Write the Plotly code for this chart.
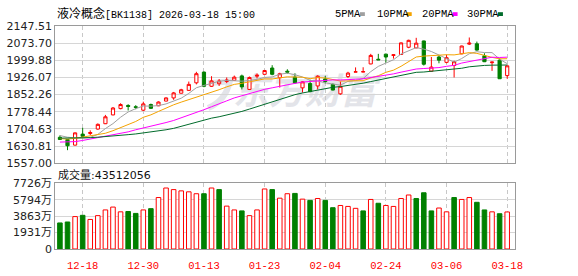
import plotly.graph_objects as go

# ---------------- data ----------------
dates = ["12-15", "12-16", "12-17", "12-18", "12-19", "12-22", "12-23", "12-24", "12-25", "12-26",
         "12-29", "12-30", "12-31", "01-05", "01-06", "01-07", "01-08", "01-09", "01-12", "01-13",
         "01-14", "01-15", "01-16", "01-19", "01-20", "01-21", "01-22", "01-23", "01-26", "01-27",
         "01-28", "01-29", "01-30", "02-02", "02-03", "02-04", "02-05", "02-06", "02-09", "02-10",
         "02-11", "02-12", "02-13", "02-24", "02-25", "02-26", "02-27", "03-02", "03-03", "03-04",
         "03-05", "03-06", "03-09", "03-10", "03-11", "03-12", "03-13", "03-16", "03-17", "03-18"]

open_ = [1668.7, 1659.2, 1634.9, 1682.3, 1685.0, 1704.0, 1727.0, 1764.9, 1792.0, 1805.5,
         1800.1, 1785.2, 1809.6, 1804.2, 1824.5, 1838.0, 1858.3, 1870.5, 1903.0, 1949.1,
         1888.1, 1899.0, 1908.5, 1913.9, 1932.8, 1874.6, 1931.5, 1939.6, 1966.7, 1924.7,
         1953.1, 1927.4, 1881.4, 1900.3, 1889.5, 1920.0, 1896.3, 1855.6, 1930.1, 1949.1,
         1949.5, 1984.3, 2004.6, 2026.3, 2020.9, 2024.9, 2056.1, 2053.4, 2083.2, 1953.1,
         2014.1, 1991.1, 1977.5, 2027.7, 2069.6, 2071.0, 2019.5, 1989.7, 2000.6, 1934.2]
high = [1676.9, 1660.6, 1689.0, 1709.4, 1698.5, 1728.3, 1764.9, 1798.8, 1815.0, 1810.9,
        1806.9, 1821.8, 1813.6, 1823.1, 1840.7, 1863.8, 1877.3, 1908.5, 1950.4, 1951.8,
        1931.5, 1919.3, 1926.1, 1934.2, 1938.3, 1930.1, 1943.7, 1958.6, 1978.9, 1946.4,
        1961.3, 1943.7, 1909.8, 1916.6, 1935.5, 1932.8, 1900.3, 1908.5, 1950.4, 1969.4,
        1970.0, 2027.7, 2027.7, 2029.0, 2024.9, 2076.4, 2088.6, 2096.7, 2084.5, 2014.1,
        2020.9, 2023.6, 1997.9, 2062.9, 2098.1, 2080.5, 2030.3, 1993.8, 2008.7, 1977.5]
low = [1657.9, 1613.2, 1633.5, 1670.1, 1678.2, 1701.2, 1725.6, 1763.5, 1789.3, 1783.9,
       1789.3, 1781.1, 1790.6, 1802.8, 1823.1, 1829.9, 1857.0, 1869.2, 1896.3, 1884.1,
       1885.4, 1889.5, 1901.7, 1912.5, 1874.6, 1871.9, 1922.0, 1938.3, 1935.5, 1882.7,
       1942.3, 1900.3, 1861.0, 1862.4, 1874.6, 1900.3, 1870.5, 1851.6, 1923.4, 1949.1,
       1949.0, 1983.0, 2001.9, 1989.7, 2007.3, 2023.6, 2052.0, 2052.0, 1977.5, 1950.4,
       1987.0, 1987.0, 1926.0, 2026.3, 2065.6, 2041.2, 1992.4, 1954.5, 1920.6, 1920.6]
close = [1659.2, 1632.2, 1687.7, 1672.8, 1689.0, 1724.3, 1756.8, 1794.7, 1809.6, 1801.5,
         1797.4, 1812.3, 1793.3, 1820.4, 1838.0, 1859.7, 1873.2, 1896.3, 1942.3, 1888.1,
         1911.2, 1911.0, 1915.2, 1927.4, 1885.4, 1926.1, 1935.5, 1955.9, 1939.6, 1942.3,
         1949.1, 1903.0, 1907.1, 1865.1, 1931.5, 1908.5, 1871.9, 1888.1, 1945.0, 1950.4,
         1951.0, 2020.9, 2001.9, 2014.1, 2023.6, 2075.0, 2085.9, 2073.7, 1983.0, 1970.8,
         2000.6, 2011.4, 1993.8, 2061.5, 2073.7, 2043.9, 1993.8, 1992.4, 1920.6, 1976.2]

ma5 = [1676, 1669, 1666, 1665, 1668.2, 1681.2, 1706.1, 1727.5, 1754.9, 1777.4,
       1792.0, 1803.1, 1802.8, 1805.0, 1812.3, 1824.7, 1836.9, 1857.5, 1881.9, 1891.9,
       1902.2, 1909.8, 1913.6, 1910.6, 1910.1, 1913.1, 1917.9, 1926.1, 1928.5, 1939.9,
       1944.5, 1938.0, 1928.2, 1913.3, 1911.2, 1903.0, 1896.8, 1893.0, 1909.0, 1912.8,
       1921.3, 1951.1, 1973.8, 1987.7, 2002.3, 2027.1, 2040.1, 2054.5, 2048.2, 2037.7,
       2022.8, 2007.9, 1991.9, 2007.6, 2028.2, 2036.9, 2033.3, 2033.1, 2004.9, 1985.4]
ma10 = [1663, 1661, 1664, 1669, 1675, 1680, 1686, 1697, 1710, 1722.8,
        1736.6, 1754.6, 1765.2, 1779.9, 1794.8, 1808.4, 1820.0, 1830.2, 1843.4, 1852.1,
        1863.5, 1873.4, 1885.6, 1896.3, 1901.0, 1907.6, 1913.9, 1919.8, 1919.6, 1925.0,
        1928.8, 1928.0, 1927.1, 1920.9, 1925.5, 1923.8, 1917.4, 1910.6, 1911.2, 1912.0,
        1912.2, 1924.0, 1933.4, 1948.3, 1957.5, 1974.2, 1995.6, 2014.2, 2018.0, 2020.0,
        2025.0, 2024.0, 2023.2, 2027.9, 2032.9, 2029.8, 2020.6, 2012.5, 2006.3, 2006.8]
ma20 = [1648, 1648, 1650, 1655, 1661, 1666, 1673, 1680, 1685, 1692,
        1701, 1708, 1716, 1723, 1732, 1741, 1752, 1765, 1777, 1787.4,
        1800.0, 1814.0, 1825.4, 1838.1, 1847.9, 1858.0, 1866.9, 1875.0, 1881.5, 1888.5,
        1896.1, 1900.7, 1906.4, 1908.6, 1913.3, 1915.7, 1915.6, 1915.2, 1915.4, 1918.5,
        1920.5, 1926.0, 1930.3, 1934.6, 1941.5, 1949.0, 1956.5, 1962.4, 1964.6, 1966.0,
        1968.6, 1974.0, 1978.3, 1988.1, 1995.2, 2002.0, 2008.1, 2013.3, 2012.1, 2013.4]
ma30 = [1665, 1665, 1664, 1665, 1667, 1669, 1671, 1674, 1676, 1680,
        1683, 1687, 1691, 1696, 1701, 1707, 1716, 1726, 1735, 1744,
        1751, 1757, 1764, 1771, 1780, 1790, 1800, 1810, 1821, 1833.3,
        1843.0, 1852.0, 1859.3, 1865.7, 1873.8, 1879.9, 1883.8, 1886.9, 1891.4, 1896.4,
        1901.5, 1908.4, 1915.4, 1921.8, 1928.0, 1935.2, 1942.3, 1948.2, 1949.6, 1952.3,
        1955.3, 1958.6, 1961.3, 1965.7, 1972.0, 1975.9, 1977.9, 1979.1, 1978.5, 1979.6]

volume = [30600000, 31720000, 38070000, 39560000, 34710000, 39190000, 45900000, 49260000, 43660000, 44040000,
          41800000, 45900000, 47400000, 60460000, 71650000, 69790000, 68300000, 67180000, 64940000, 64940000,
          71650000, 69790000, 50380000, 45900000, 44780000, 39190000, 45900000, 70530000, 69790000, 59710000,
          64940000, 65310000, 58590000, 57100000, 59340000, 57100000, 48520000, 51130000, 50010000, 47770000,
          44780000, 58220000, 53740000, 51130000, 50010000, 59340000, 63440000, 59340000, 66060000, 44780000,
          48140000, 43660000, 60460000, 58220000, 60460000, 54860000, 45900000, 43660000, 41430000, 43512056]
# 1 = red (up) volume bar, 0 = green (down)
vol_up = [0, 0, 1, 0, 1, 1, 1, 1, 1, 0,
          0, 1, 0, 1, 1, 1, 1, 1, 1, 0,
          1, 0, 1, 1, 0, 1, 1, 1, 0, 1,
          1, 0, 1, 0, 1, 0, 0, 1, 1, 1,
          0, 1, 0, 1, 1, 1, 1, 0, 0, 0,
          1, 1, 0, 1, 1, 0, 0, 1, 0, 1]

price_ticks = [1557.00, 1630.81, 1704.63, 1778.44, 1852.26, 1926.07, 1999.88, 2073.70, 2147.51]
vol_ticks = [0, 19310000, 38630000, 57940000, 77260000]
vol_tick_labels = ["0", "1931万", "3863万", "5794万", "7726万"]
date_ticks = ["12-18", "12-30", "01-13", "01-23", "02-04", "02-24", "03-06", "03-18"]

title_name = "液冷概念"
title_code = "[BK1138]"
title_time = "2026-03-18 15:00"
vol_title = "成交量"
watermark = "东方财富"
ma_names = ["5PMA", "10PMA", "20PMA", "30PMA"]
ma_colors = ["#a0a0a0", "#f4a300", "#ff00ff", "#006b2b"]

# ---------------- figure ----------------
W, H = 578, 276
RED = "#ff0000"
GREEN = "#008000"
FRAME = "#9a9a9a"
GRID = "#d6d6d6"
VGRID = "#c8c8c8"
WM = "#e3e4e9"
X0, X1 = 56, 522
P_TOP, P_BOT = 21, 165
V_TOP, V_BOT = 186, 255

def px(x):
    return x / W

def py(y):
    return (H - y) / H

fig = go.Figure()

fig.add_trace(go.Candlestick(
    x=dates, open=open_, high=high, low=low, close=close,
    increasing=dict(line=dict(color=RED, width=1), fillcolor="#ffffff"),
    decreasing=dict(line=dict(color=GREEN, width=1), fillcolor=GREEN),
    whiskerwidth=0, xaxis="x", yaxis="y", showlegend=False, hoverinfo="skip"))

for name, vals, col in zip(ma_names, [ma5, ma10, ma20, ma30], ma_colors):
    fig.add_trace(go.Scatter(x=dates, y=vals, mode="lines", name=name,
                             line=dict(color=col, width=1), xaxis="x", yaxis="y",
                             showlegend=False, hoverinfo="skip"))

bar_fill = [("#ffffff" if u else GREEN) for u in vol_up]
bar_line = [(RED if u else GREEN) for u in vol_up]
fig.add_trace(go.Bar(x=dates, y=volume, width=0.6,
                     marker=dict(color=bar_fill, line=dict(color=bar_line, width=1)),
                     xaxis="x2", yaxis="y2", showlegend=False, hoverinfo="skip"))

xr = [-0.62, len(dates) - 0.0]
common_x = dict(domain=[px(X0), px(X1)], type="category", range=xr,
                tickvals=date_ticks, showgrid=True, gridcolor=VGRID, griddash="4px,3px",
                gridwidth=1, showline=True, mirror=True, linecolor=FRAME, linewidth=1,
                ticks="", zeroline=False, fixedrange=True)

fig.update_layout(
    width=W, height=H, margin=dict(l=0, r=0, t=0, b=0), autosize=False,
    paper_bgcolor="white", plot_bgcolor="white", boxgap=0.4, bargap=0.4,
    showlegend=False,
    xaxis=dict(**common_x, anchor="y", showticklabels=False,
               rangeslider=dict(visible=False)),
    xaxis2=dict(**common_x, anchor="y2", matches="x", showticklabels=True,
                ticktext=date_ticks, ticklabelstandoff=6,
                tickfont=dict(family="Liberation Mono", size=10.5, color=RED)),
    yaxis=dict(domain=[py(P_BOT), py(P_TOP)], range=[price_ticks[0], price_ticks[-1]],
               tickvals=price_ticks, ticktext=[f"{v:.2f}" for v in price_ticks],
               tickfont=dict(family="DejaVu Sans", size=11, color="#222222"),
               showgrid=True, gridcolor=GRID, gridwidth=1, showline=True, mirror=True,
               linecolor=FRAME, linewidth=1, ticks="", zeroline=False, anchor="x",
               fixedrange=True),
    yaxis2=dict(domain=[py(V_BOT), py(V_TOP)], range=[0, vol_ticks[-1]],
                tickvals=vol_ticks, ticktext=vol_tick_labels,
                tickfont=dict(family="DejaVu Sans, Noto Sans CJK SC", size=11, color="#222222"),
                showgrid=True, gridcolor=GRID, gridwidth=1, showline=True, mirror=True,
                linecolor=FRAME, linewidth=1, ticks="", zeroline=False, anchor="x2",
                fixedrange=True),
)

# watermark (behind the data): logo hook + text
logo_path = (f"M {px(211)},{py(81)} L {px(233)},{py(79)} "
             f"Q {px(229)},{py(99)} {px(211)},{py(107)}")
fig.add_shape(type="path", xref="paper", yref="paper", path=logo_path,
              line=dict(color=WM, width=6), layer="between")
fig.add_shape(type="rect", xref="paper", yref="paper",
              x0=px(232), x1=px(386), y0=py(110), y1=py(74),
              line=dict(width=0), fillcolor="rgba(0,0,0,0)", layer="between",
              label=dict(text=watermark, textposition="middle center",
                         font=dict(family="Noto Sans CJK SC", size=36, color=WM,
                                   weight=700, style="italic")))

# title
fig.add_annotation(xref="paper", yref="paper", x=px(56), y=py(8.5), xanchor="left",
                   yanchor="middle", showarrow=False,
                   text=f'<span style="font-size:12px">{title_name}</span>{title_code} {title_time}',
                   font=dict(family="Liberation Mono, Noto Sans CJK SC", size=10, color="#000000"))

# legend (text followed by a small colour square)
leg_text_x = [338, 380, 426, 472]
leg_sq_x = [365, 412.5, 459, 505]
for name, col, tx, sx in zip(ma_names, ma_colors, leg_text_x, leg_sq_x):
    fig.add_annotation(xref="paper", yref="paper", x=px(tx), y=py(8.5), xanchor="left",
                       yanchor="middle", showarrow=False, text=name,
                       font=dict(family="Liberation Mono", size=10.5, color="#000000"))
    fig.add_shape(type="rect", xref="paper", yref="paper", x0=px(sx), x1=px(sx + 5),
                  y0=py(10.5), y1=py(6.5), line=dict(width=0), fillcolor=col, layer="above")

# volume title
fig.add_annotation(xref="paper", yref="paper", x=px(57), y=py(177.5), xanchor="left",
                   yanchor="middle", showarrow=False,
                   text=f"{vol_title}:{volume[-1]}",
                   font=dict(family="DejaVu Sans, Noto Sans CJK SC", size=11, color="#111111"))

fig.write_html("out.html")
